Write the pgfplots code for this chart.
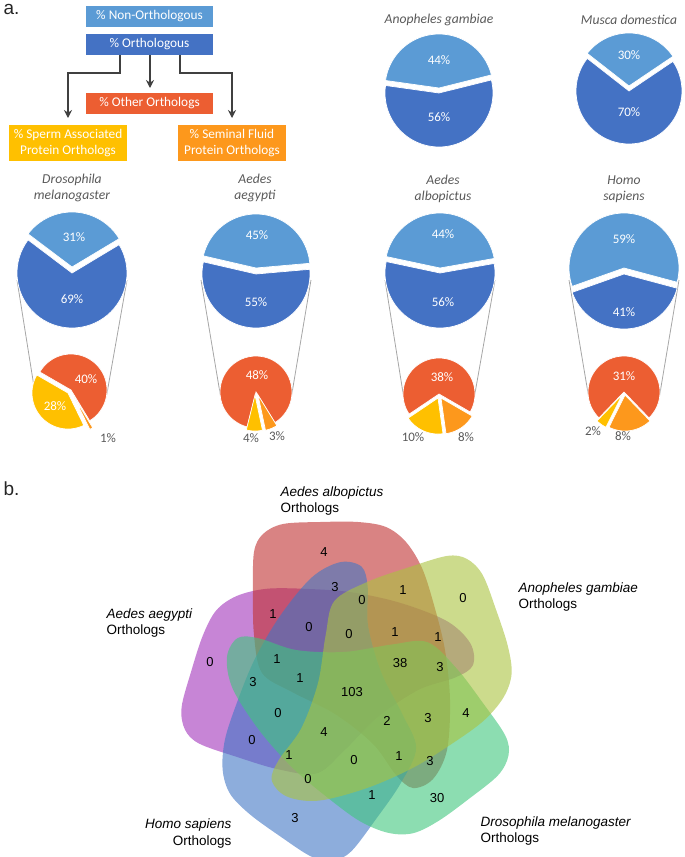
\documentclass[border=0pt]{standalone}
\usepackage{fontspec}
\setmainfont{Carlito}
\newfontfamily\arial{Liberation Sans}
\usepackage{pgfplots}
\pgfplotsset{compat=1.18}
\usetikzlibrary{arrows.meta}

\definecolor{lblue}{RGB}{91,155,213}
\definecolor{dblue}{RGB}{68,114,196}
\definecolor{pred}{RGB}{236,94,50}
\definecolor{pyel}{RGB}{255,192,0}
\definecolor{pora}{RGB}{253,152,28}
\definecolor{tgray}{RGB}{89,89,89}
\definecolor{lgray}{RGB}{166,166,166}
\definecolor{agray}{RGB}{64,64,64}
\definecolor{vpurple}{RGB}{162,52,187}
\definecolor{vred}{RGB}{192,48,48}
\definecolor{vyellow}{RGB}{170,195,63}
\definecolor{vgreen}{RGB}{63,198,125}
\definecolor{vblue}{RGB}{65,118,197}

% pie slice: cx, cy, r, start angle, end angle, colour
\newcommand{\slice}[6]{\addplot[fill=#6, draw=white, line width=0.7pt, domain=#4:#5, samples=50, variable=\t] ({#1+#3*cos(\t)}, {#2-#3*sin(\t)}) -- (axis cs:#1,#2) -- cycle;}
% Venn set: rotation, colour, xshift, yshift
\newcommand{\blob}[4]{\fill[#2, fill opacity=0.6, xshift=#3pt, yshift=#4pt, rotate around={#1:(axis cs:349,687)}] plot[smooth cycle, tension=0.55] coordinates {(254,552) (263,534) (283,524) (320,522) (358,522) (386,527) (406,542) (422,568) (434,605) (445,650) (450,700) (447,750) (433,779) (413,788) (396,775) (373,744) (335,714) (292,692) (262,673) (254,635) (253,592)};}
\newcommand{\pa}{\fontsize{13}{15}\selectfont}
\newcommand{\pt}{\fontsize{13.6}{16}\selectfont}
\newcommand{\pb}{\arial\fontsize{13}{15}\selectfont}

\begin{document}
\begin{tikzpicture}
\path[use as bounding box] (0,0) rectangle (685pt,857pt);
\begin{axis}[at={(0pt,0pt)}, anchor=south west, width=685pt, height=857pt, scale only axis,
  xmin=0, xmax=685, ymin=0, ymax=857, y dir=reverse, hide axis, clip=false]

% ---------- panel labels
\node[anchor=base west, font=\arial\fontsize{19}{21}\selectfont, text=black!85] at (0,14) {a.};
\node[anchor=base west, font=\arial\fontsize{19}{21}\selectfont, text=black!85] at (0,495) {b.};

% ---------- legend flow chart
\fill[lblue] (86,6) rectangle (213,27);
\fill[dblue] (86,34) rectangle (213,55);
\fill[pred] (86,93) rectangle (213,114);
\fill[pyel] (9,125) rectangle (127,161);
\fill[pora] (178,125) rectangle (286,161);
\node[white, font=\fontsize{13.3}{16}\selectfont] at (149.5,16.5) {\% Non-Orthologous};
\node[white, font=\fontsize{13.3}{16}\selectfont] at (149.5,44.5) {\% Orthologous};
\node[white, font=\fontsize{13.3}{16}\selectfont] at (149.5,103.5) {\% Other Orthologs};
\node[white, font=\fontsize{13.3}{15.5}\selectfont, align=center] at (68,143) {\% Sperm Associated\\Protein Orthologs};
\node[white, font=\fontsize{13.3}{15.5}\selectfont, align=center] at (232,143) {\% Seminal Fluid\\Protein Orthologs};
\draw[agray, line width=1.3pt, -{Stealth[length=8pt,width=8pt]}] (120,55) -- (120,73) -- (68,73) -- (68,118);
\draw[agray, line width=1.3pt, -{Stealth[length=8pt,width=8pt]}] (150,55) -- (150,88);
\draw[agray, line width=1.3pt, -{Stealth[length=8pt,width=8pt]}] (180,55) -- (180,73) -- (232,73) -- (232,118);

% ---------- connector lines
\addplot[lgray, line width=0.8pt] coordinates {(17,280) (35.5,396)};
\addplot[lgray, line width=0.8pt] coordinates {(127,280) (106.5,396)};
\addplot[lgray, line width=0.8pt] coordinates {(201,280) (220.5,396)};
\addplot[lgray, line width=0.8pt] coordinates {(311,280) (291.5,396)};
\addplot[lgray, line width=0.8pt] coordinates {(385,280) (403.5,396)};
\addplot[lgray, line width=0.8pt] coordinates {(495,280) (474.5,396)};
\addplot[lgray, line width=0.8pt] coordinates {(569,280) (588.5,396)};
\addplot[lgray, line width=0.8pt] coordinates {(679,280) (659.5,396)};

% ---------- top pies
\slice{439}{88}{54}{14}{172}{lblue}
\slice{439}{93}{54}{172}{374}{dblue}
\slice{629}{86}{53}{34}{142}{lblue}
\slice{629}{91}{53}{142}{394}{dblue}

% ---------- big pies
\slice{72}{267}{55}{31}{143}{lblue}
\slice{72}{273}{55}{143}{391}{dblue}
\slice{256}{268}{54}{5}{167}{lblue}
\slice{256}{274}{54}{167}{365}{dblue}
\slice{440}{268}{55}{10}{168}{lblue}
\slice{440}{273}{55}{168}{370}{dblue}
\slice{624}{268}{55}{-15}{199.5}{lblue}
\slice{624}{274}{55}{199.5}{345}{dblue}

% ---------- small pies
\slice{71}{390}{36}{-58.7}{150}{pred}
\slice{68}{393}{36}{150}{296}{pyel}
\slice{74}{397}{36}{296}{301.3}{pora}
\slice{256}{392}{36}{-58.4}{256}{pred}
\slice{255}{395}{36}{256}{282}{pyel}
\slice{258}{395}{36}{282}{301.6}{pora}
\slice{439}{394}{36}{-30}{214}{pred}
\slice{438}{398}{36}{214}{278}{pyel}
\slice{441}{398}{36}{278}{330}{pora}
\slice{624}{392}{36}{-46}{226}{pred}
\slice{622}{395}{36}{226}{243.6}{pyel}
\slice{625}{395}{36}{243.6}{314}{pora}

% ---------- pie titles
\node[tgray, font=\pt\itshape] at (439,20) {Anopheles gambiae};
\node[tgray, font=\pt\itshape] at (629,20) {Musca domestica};
\node[tgray, font=\pt\itshape, align=center] at (72,188) {Drosophila\\melanogaster};
\node[tgray, font=\pt\itshape, align=center] at (255,188) {Aedes\\aegypti};
\node[tgray, font=\pt\itshape, align=center] at (443,189) {Aedes\\albopictus};
\node[tgray, font=\pt\itshape, align=center] at (624,189) {Homo\\sapiens};

% ---------- pie percentages
\node[white, font=\pa] at (439,60) {44\%};
\node[white, font=\pa] at (439,117) {56\%};
\node[white, font=\pa] at (629,55) {30\%};
\node[white, font=\pa] at (629,112) {70\%};
\node[white, font=\pa] at (74,237) {31\%};
\node[white, font=\pa] at (72,299) {69\%};
\node[white, font=\pa] at (257,235) {45\%};
\node[white, font=\pa] at (256,302) {55\%};
\node[white, font=\pa] at (443,234) {44\%};
\node[white, font=\pa] at (443,302) {56\%};
\node[white, font=\pa] at (624,239) {59\%};
\node[white, font=\pa] at (624,312) {41\%};
\node[white, font=\pa] at (86,379) {40\%};
\node[white, font=\pa] at (55,406) {28\%};
\node[white, font=\pa] at (257,375) {48\%};
\node[white, font=\pa] at (442,377) {38\%};
\node[white, font=\pa] at (624,376) {31\%};
\node[tgray, font=\pa] at (108,438) {1\%};
\node[tgray, font=\pa] at (251,438) {4\%};
\node[tgray, font=\pa] at (277,436) {3\%};
\node[tgray, font=\pa] at (413,437) {10\%};
\node[tgray, font=\pa] at (466,437) {8\%};
\node[tgray, font=\pa] at (593,431) {2\%};
\node[tgray, font=\pa] at (623,436) {8\%};

% ---------- Venn diagram
\blob{72}{vpurple}{8}{-8}
\blob{0}{vred}{0}{0}
\blob{-216}{vblue}{5}{1}
\blob{-144}{vgreen}{0}{5}
\blob{-72}{vyellow}{-1}{-1}

\node[anchor=base west, font=\arial\fontsize{13.5}{15}\selectfont\itshape] at (277,496) {Aedes albopictus};
\node[anchor=base west, font=\arial\fontsize{13.5}{15}\selectfont] at (277,512) {Orthologs};
\node[anchor=base west, font=\arial\fontsize{13.5}{15}\selectfont\itshape] at (103,618) {Aedes aegypti};
\node[anchor=base west, font=\arial\fontsize{13.5}{15}\selectfont] at (103,634) {Orthologs};
\node[anchor=base west, font=\arial\fontsize{13.5}{15}\selectfont\itshape] at (515,592) {Anopheles gambiae};
\node[anchor=base west, font=\arial\fontsize{13.5}{15}\selectfont] at (515,608) {Orthologs};
\node[anchor=base east, font=\arial\fontsize{13.5}{15}\selectfont\itshape] at (235,828) {Homo sapiens};
\node[anchor=base east, font=\arial\fontsize{13.5}{15}\selectfont] at (235,845) {Orthologs};
\node[anchor=base west, font=\arial\fontsize{13.5}{15}\selectfont\itshape] at (477,826) {Drosophila melanogaster};
\node[anchor=base west, font=\arial\fontsize{13.5}{15}\selectfont] at (477,842) {Orthologs};

\node[font=\pb] at (324,552) {4};
\node[font=\pb] at (335,587) {3};
\node[font=\pb] at (362,600) {0};
\node[font=\pb] at (273,614) {1};
\node[font=\pb] at (309,627) {0};
\node[font=\pb] at (349,634) {0};
\node[font=\pb] at (210,662) {0};
\node[font=\pb] at (277,659) {1};
\node[font=\pb] at (403,590) {1};
\node[font=\pb] at (463,598) {0};
\node[font=\pb] at (395,632) {1};
\node[font=\pb] at (438,637) {1};
\node[font=\pb] at (400,663) {38};
\node[font=\pb] at (440,667) {3};
\node[font=\pb] at (253,682) {3};
\node[font=\pb] at (300,678) {1};
\node[font=\pb] at (352,692) {103};
\node[font=\pb] at (278,713) {0};
\node[font=\pb] at (387,721) {2};
\node[font=\pb] at (428,718) {3};
\node[font=\pb] at (466,713) {4};
\node[font=\pb] at (324,732) {4};
\node[font=\pb] at (252,740) {0};
\node[font=\pb] at (289,755) {1};
\node[font=\pb] at (354,760) {0};
\node[font=\pb] at (399,756) {1};
\node[font=\pb] at (430,761) {3};
\node[font=\pb] at (308,779) {0};
\node[font=\pb] at (372,795) {1};
\node[font=\pb] at (437,798) {30};
\node[font=\pb] at (295,818) {3};
\end{axis}
\end{tikzpicture}
\end{document}
